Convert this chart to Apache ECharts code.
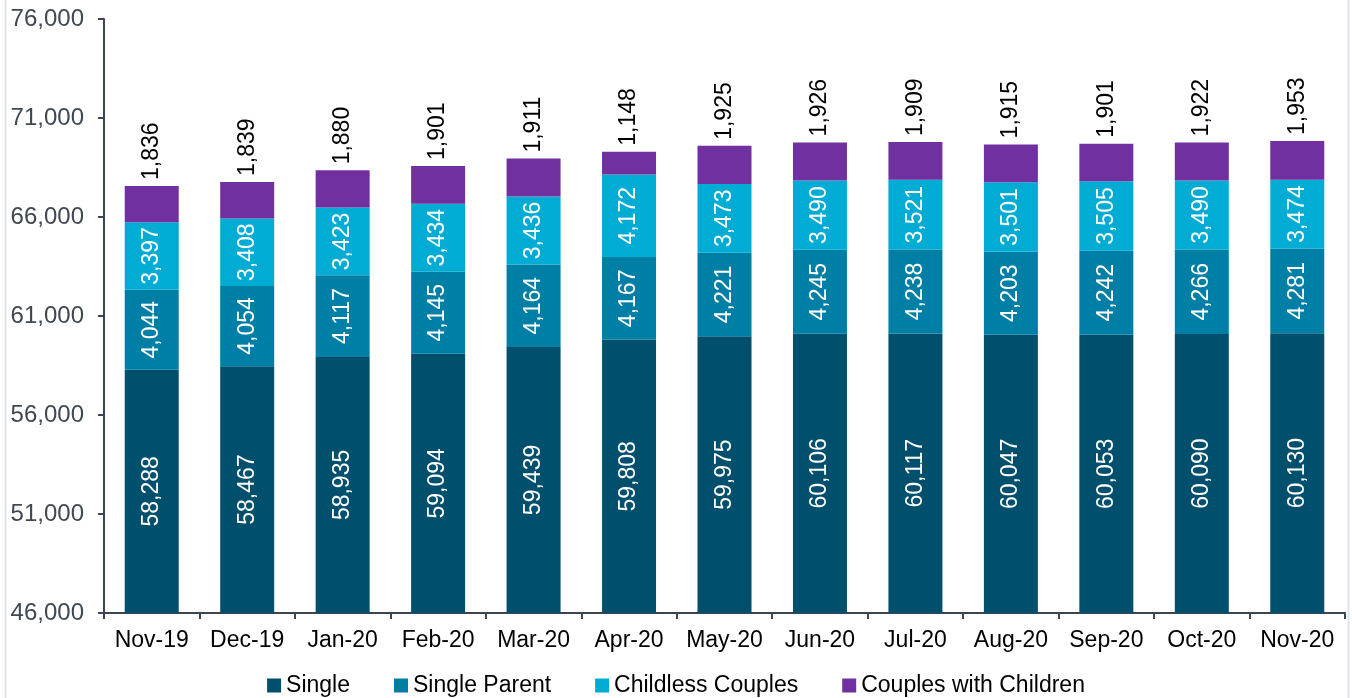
<!DOCTYPE html>
<html><head><meta charset="utf-8">
<script src="https://cdn.jsdelivr.net/npm/echarts@6/dist/echarts.min.js"></script>
<style>html,body{margin:0;padding:0;background:#fff}#c{width:1352px;height:698px}</style>
</head><body><div id="c"></div>
<script>
const categories = ['Nov-19','Dec-19','Jan-20','Feb-20','Mar-20','Apr-20','May-20','Jun-20','Jul-20','Aug-20','Sep-20','Oct-20','Nov-20'];
const single = [58288,58467,58935,59094,59439,59808,59975,60106,60117,60047,60053,60090,60130];
const singleParent = [4044,4054,4117,4145,4164,4167,4221,4245,4238,4203,4242,4266,4281];
const childless = [3397,3408,3423,3434,3436,4172,3473,3490,3521,3501,3505,3490,3474];
const couplesKids = [1836,1839,1880,1901,1911,1148,1925,1926,1909,1915,1901,1922,1953];
const yTicks = {min:46000, max:76000, interval:5000};

const fmt = v => v.toLocaleString('en-US');
const font = '"Liberation Sans", Arial, sans-serif';
const inLabel = {show:true, position:'inside', rotate:90, color:'#fff', fontSize:23, fontFamily:font, formatter:p=>fmt(p.value)};
const chart = echarts.init(document.getElementById('c'));
chart.setOption({
  animation:false,
  grid:{left:104, right:7, top:19, bottom:85},
  graphic:[
    {type:'line', shape:{x1:5.5,y1:0,x2:5.5,y2:698}, style:{stroke:'#dde2e8', lineWidth:2}},
    {type:'line', shape:{x1:1348.5,y1:0,x2:1348.5,y2:698}, style:{stroke:'#dde2e8', lineWidth:2}}
  ],
  legend:{top:669, left:'center', itemWidth:14, itemHeight:14, itemGap:44, icon:'rect',
    textStyle:{fontSize:23, color:'#000', fontFamily:font},
    data:['Single','Single Parent','Childless Couples','Couples with Children']},
  xAxis:{type:'category', data:categories,
    axisLine:{lineStyle:{color:'#3d4650', width:2}},
    axisTick:{show:true, length:6, lineStyle:{color:'#3d4650', width:2}},
    axisLabel:{interval:0, hideOverlap:false, fontSize:23, color:'#000', fontFamily:font, margin:16}},
  yAxis:{type:'value', min:yTicks.min, max:yTicks.max, interval:yTicks.interval,
    axisLine:{show:true, lineStyle:{color:'#3d4650', width:2}},
    axisTick:{show:true, length:6, lineStyle:{color:'#3d4650', width:2}},
    splitLine:{show:false},
    axisLabel:{fontSize:24, color:'#404850', fontFamily:font, margin:20, formatter:v=>fmt(v)}},
  series:[
    {name:'Single', type:'bar', stack:'a', data:single, barWidth:54, itemStyle:{color:'#004f6d'}, label:inLabel},
    {name:'Single Parent', type:'bar', stack:'a', data:singleParent, itemStyle:{color:'#007fa6'}, label:inLabel},
    {name:'Childless Couples', type:'bar', stack:'a', data:childless, itemStyle:{color:'#00acd4'}, label:inLabel},
    {name:'Couples with Children', type:'bar', stack:'a', data:couplesKids, itemStyle:{color:'#7030a0'},
      label:{show:true, position:'top', rotate:90, align:'left', verticalAlign:'middle', distance:6, color:'#000', fontSize:23, fontFamily:font, formatter:p=>fmt(p.value)}}
  ]
});
</script></body></html>
